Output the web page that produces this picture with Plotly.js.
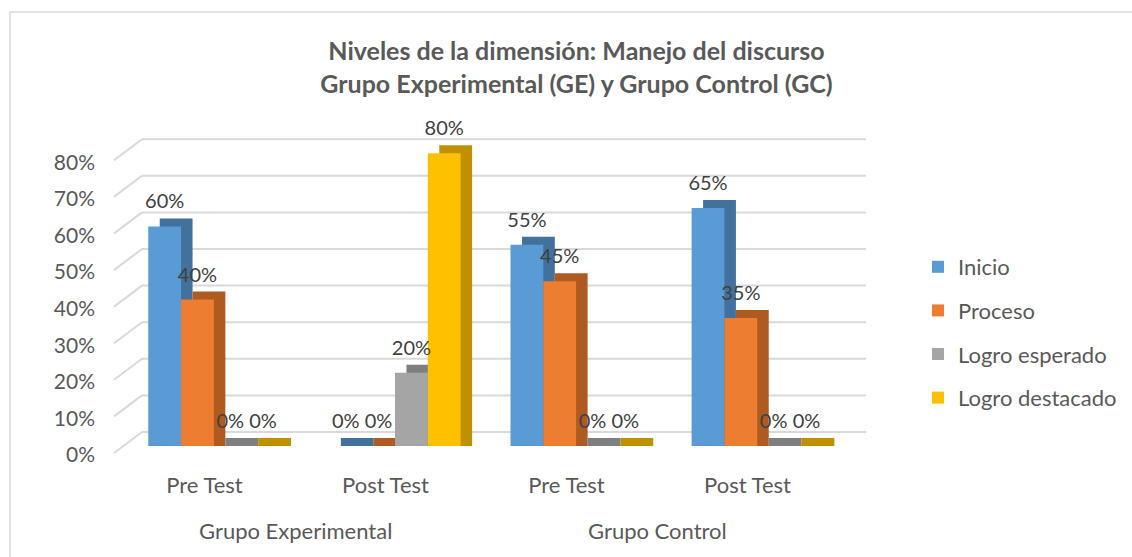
<!DOCTYPE html>
<html>
<head>
<meta charset="utf-8">
<script src="https://cdn.plot.ly/plotly-3.0.1.min.js"></script>
<style>html,body{margin:0;padding:0;background:#fff;}#chart{width:1132px;height:557px;}</style>
</head>
<body>
<div id="chart"></div>
<script>
// ---- data ----
const categories = ["Pre Test", "Post Test", "Pre Test", "Post Test"];
const groups = ["Grupo Experimental", "Grupo Control"];
const seriesNames = ["Inicio", "Proceso", "Logro esperado", "Logro destacado"];
const inicio = [0.60, 0.00, 0.55, 0.65];
const proceso = [0.40, 0.00, 0.45, 0.35];
const logroEsperado = [0.00, 0.20, 0.00, 0.00];
const logroDestacado = [0.00, 0.80, 0.00, 0.00];
const yTicks = [0, 0.1, 0.2, 0.3, 0.4, 0.5, 0.6, 0.7, 0.8];
const titleText = "Niveles de la dimensión: Manejo del discurso<br>Grupo Experimental (GE) y Grupo Control (GC)";

// ---- style ----
const W = 1132, H = 557;
const FONT = "Lato, 'Open Sans', sans-serif";
const frontColors = ["#5b9bd5", "#ed7d31", "#a5a5a5", "#ffc000"];
const darkColors = ["#41719c", "#ae5a21", "#7f7f7f", "#bf9000"];
const seriesValues = [inicio, proceso, logroEsperado, logroDestacado];
const catIdx = categories.map((_, i) => i);

const PXU = 366;           // pixels per unit (100%)
const DX = 11.5, DY = 8;   // 3D depth offset of bars
const BACK = 23;           // wall offset relative to tick label row
const SLANT0 = 2;          // front end of side-wall slant above label row
const px = x => x / W;
const py = y => 1 - y / H;

// bar front plane
const barL = 123.3, barR = 847.8, barY0 = 446, yTop = 0.9;
// domain for an axis whose value 0 sits at pixel row y0 and whose range is [r0, r1]
function yDomain(y0, r0, r1) { return [py(y0 - r0 * PXU), py(y0 - r1 * PXU)]; }
const dBase = DY / PXU;

const traces = [];
// dark (side/top) faces: subplot x/y
seriesValues.forEach((vals, s) => {
  traces.push({
    type: 'bar', x: catIdx, y: vals.map(v => v + dBase), base: vals.map(() => -dBase),
    xaxis: 'x', yaxis: 'y', marker: { color: darkColors[s], line: { width: 0 } },
    showlegend: false, hoverinfo: 'skip', offsetgroup: 'g' + s
  });
});
// front faces: subplot x3/y3
seriesValues.forEach((vals, s) => {
  traces.push({
    type: 'bar', name: seriesNames[s], x: catIdx, y: vals,
    xaxis: 'x3', yaxis: 'y3', marker: { color: frontColors[s], line: { width: 0 } },
    legendgroup: 'L' + s, offsetgroup: 'g' + s
  });
});
// data labels: subplot x4/y4 (shifted up)
seriesValues.forEach((vals, s) => {
  traces.push({
    type: 'bar', x: catIdx, y: vals, xaxis: 'x4', yaxis: 'y4',
    marker: { color: 'rgba(0,0,0,0)' }, texttemplate: '%{y:.0%}', textposition: 'outside',
    constraintext: 'none', cliponaxis: false,
    textfont: { family: FONT, size: 20, color: '#404040' },
    showlegend: false, hoverinfo: 'skip', offsetgroup: 'g' + s
  });
});

const hidden = { visible: false, fixedrange: true };
const xBar = { ...hidden, type: 'linear', range: [-0.5, 3.5] };

// floor front label axis (y2)
const frontY0 = 455, frontR0 = -(470 - frontY0) / PXU;

const shapes = [];
yTicks.forEach(t => {
  // back wall gridline
  shapes.push({ type: 'line', layer: 'below', xref: 'paper', x0: px(142), x1: px(866),
    yref: 'y2', ysizemode: 'pixel', yanchor: t, y0: BACK, y1: BACK,
    line: { color: '#d9d9d9', width: 2 } });
  // side wall slant
  shapes.push({ type: 'line', layer: 'below', xref: 'paper', x0: px(114), x1: px(142),
    yref: 'y2', ysizemode: 'pixel', yanchor: t, y0: SLANT0, y1: BACK,
    line: { color: '#d9d9d9', width: 2 } });
});
// outer chart border
shapes.push({ type: 'rect', xref: 'paper', yref: 'paper', x0: px(10), x1: 1.05, y0: -0.05, y1: py(12),
  line: { color: '#d9d9d9', width: 1.5 }, fillcolor: 'rgba(0,0,0,0)' });

const layout = {
  width: W, height: H,
  margin: { l: 0, r: 0, t: 0, b: 0 },
  paper_bgcolor: '#ffffff', plot_bgcolor: 'rgba(0,0,0,0)',
  barmode: 'group', bargap: 0.2755, bargroupgap: 0,
  font: { family: FONT, color: '#595959', size: 22 },
  title: { text: titleText, x: px(576.5), xanchor: 'center', y: py(60), yanchor: 'top',
    font: { family: FONT, size: 25, color: '#595959', weight: 'bold' } },
  xaxis: { ...xBar, domain: [px(barL + DX), px(barR + DX)], anchor: 'y' },
  yaxis: { ...hidden, range: [-dBase, yTop], domain: yDomain(barY0 - DY, -dBase, yTop), anchor: 'x' },
  xaxis2: { type: 'linear', range: [-0.5, 3.5], domain: [px(114), px(838)], anchor: 'y2',
    tickvals: catIdx, ticktext: categories, showgrid: false, zeroline: false, showline: false,
    ticks: '', tickfont: { family: FONT, size: 22, color: '#595959' }, fixedrange: true },
  yaxis2: { type: 'linear', range: [frontR0, yTop], domain: yDomain(frontY0, frontR0, yTop), anchor: 'x2',
    tickvals: yTicks, tickformat: '.0%', showgrid: false, zeroline: false, showline: false,
    ticks: '', ticklabelstandoff: 18, tickfont: { family: FONT, size: 21, color: '#595959' }, fixedrange: true },
  xaxis3: { ...xBar, domain: [px(barL), px(barR)], anchor: 'y3' },
  yaxis3: { ...hidden, range: [0, yTop], domain: yDomain(barY0, 0, yTop), anchor: 'x3' },
  xaxis4: { ...xBar, domain: [px(barL), px(barR)], anchor: 'y4' },
  yaxis4: { ...hidden, range: [0, yTop], domain: yDomain(barY0 - 11, 0, yTop), anchor: 'x4' },
  legend: { x: px(918), xanchor: 'left', y: py(246), yanchor: 'top', orientation: 'v',
    traceorder: 'grouped', tracegroupgap: 12, font: { family: FONT, size: 22, color: '#595959' },
    bgcolor: 'rgba(0,0,0,0)' },
  shapes: shapes,
  annotations: groups.map((g, i) => ({
    text: g, xref: 'x2', x: i * 2 + 0.5, yref: 'paper', y: py(530), yanchor: 'middle',
    xanchor: 'center', showarrow: false, font: { family: FONT, size: 22, color: '#595959' }
  }))
};

Plotly.newPlot('chart', traces, layout, { displayModeBar: false, staticPlot: true });
</script>
</body>
</html>
